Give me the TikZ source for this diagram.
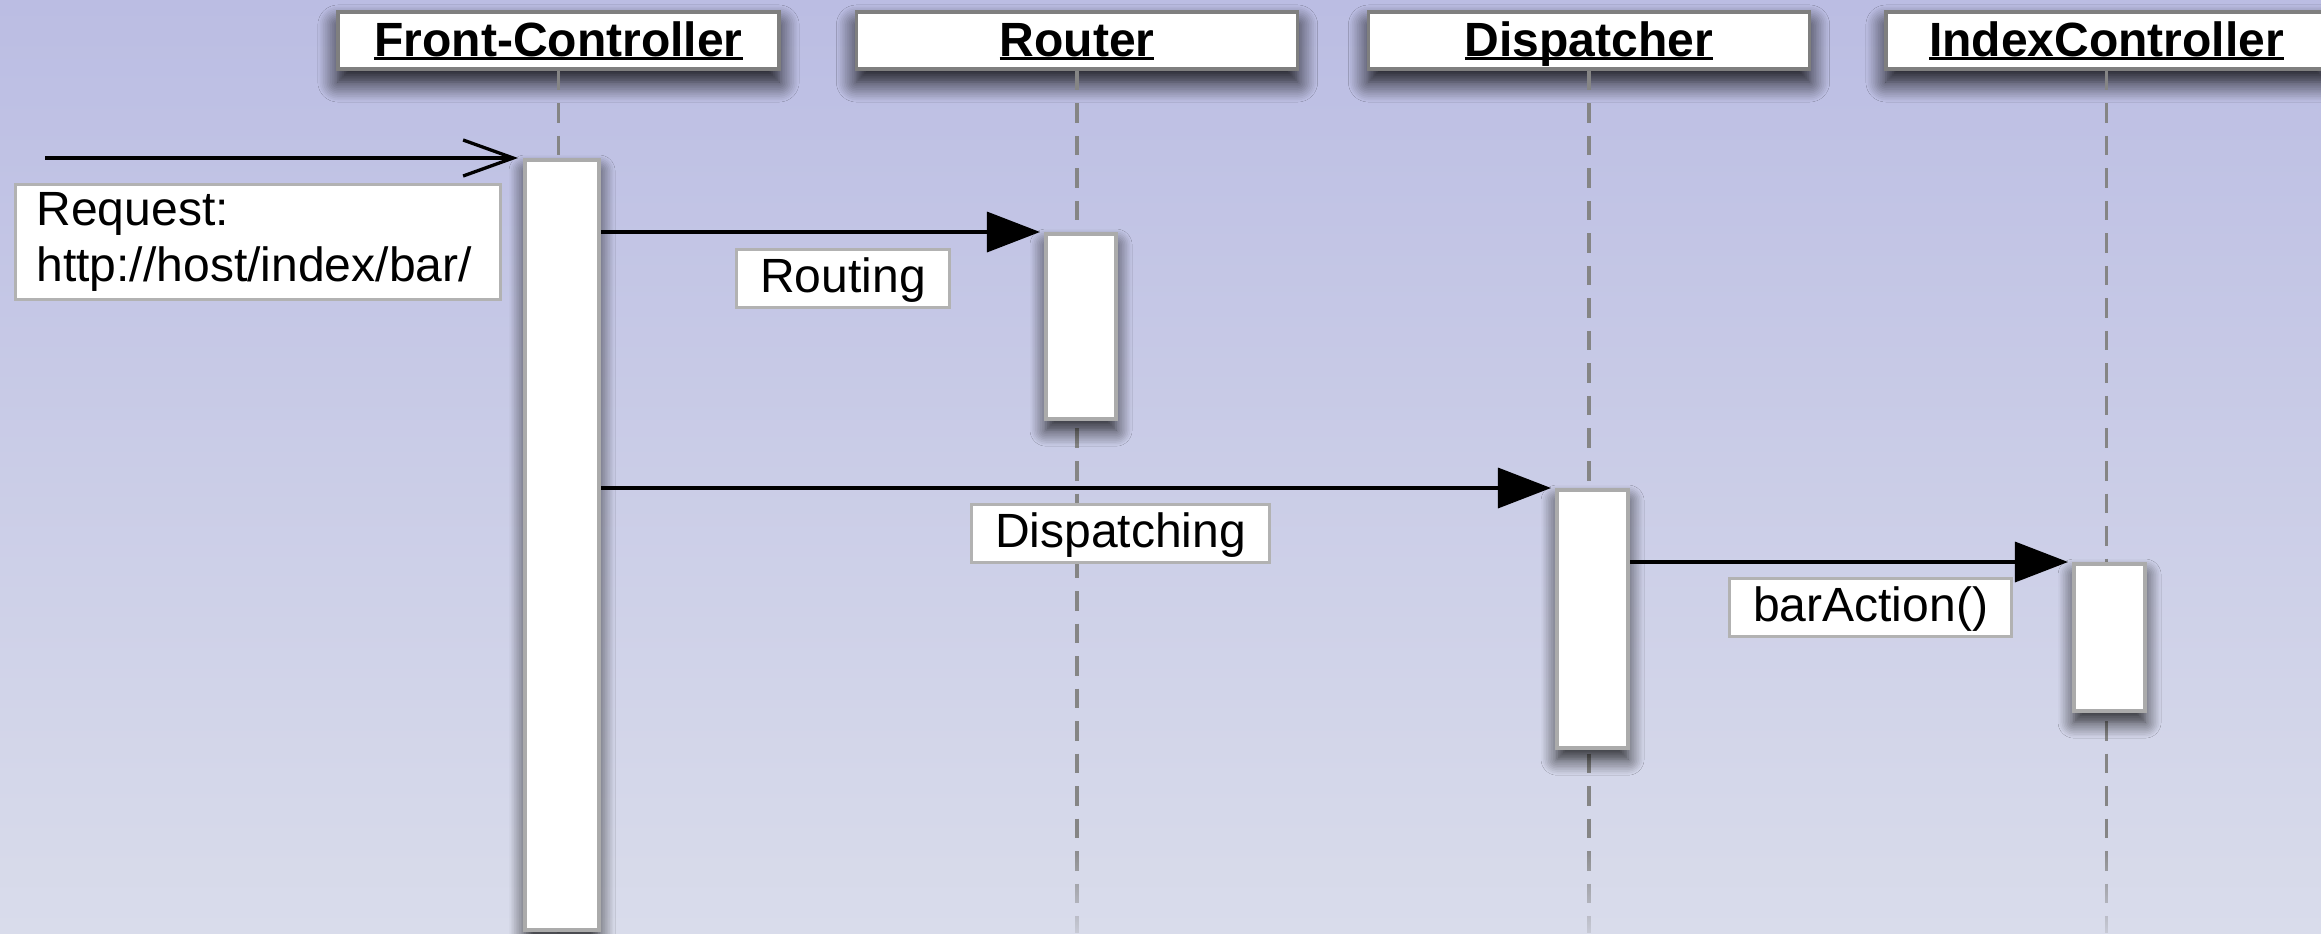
\documentclass[tikz,border=0pt]{standalone}
\usepackage{fontspec}
\setmainfont{Liberation Sans}
\usetikzlibrary{arrows.meta,shadows.blur,fadings}
\definecolor{bgtop}{HTML}{BBBDE3}
\definecolor{bgbot}{HTML}{D9DCEB}
\definecolor{bgfade}{HTML}{D6D9EA}
\definecolor{boxline}{HTML}{7F7F7F}
\definecolor{actline}{HTML}{ABABAB}
\definecolor{lblline}{HTML}{B2B2B2}
\definecolor{lifecol}{HTML}{858585}
\tikzfading[name=fadebot, top color=transparent!100, bottom color=transparent!20]
\newcommand\ulbox[1]{\setbox0\hbox{#1}\rlap{\rule[-0.035cm]{\wd0}{0.025cm}}\box0}
\begin{document}
\begin{tikzpicture}[x=0.01cm,y=-0.01cm,
  every node/.style={font=\fontsize{13.66pt}{15.93pt}\selectfont},
  titlebox/.style={draw=boxline, line width=0.035cm, fill=white,
    font=\fontsize{13.66pt}{15.93pt}\selectfont\bfseries,
    minimum width=4.41cm, inner xsep=0pt, inner ysep=0pt,
    text height=0.44cm, text depth=0.13cm,
    blur shadow={shadow xshift=0pt, shadow yshift=-0.13cm, shadow blur radius=0.2cm,
      shadow blur steps=12, shadow opacity=95}},
  actbox/.style={draw=actline, line width=0.04cm, fill=white, inner sep=0pt, anchor=north west,
    blur shadow={shadow xshift=0pt, shadow yshift=-0.11cm, shadow blur radius=0.16cm,
      shadow blur steps=10, shadow opacity=85}},
  lblbox/.style={draw=lblline, line width=0.03cm, fill=white, inner xsep=0pt, inner ysep=0pt,
    anchor=north west, text height=0.43cm, text depth=0.15cm},
  lifeline/.style={draw=lifecol, line width=0.035cm, dash pattern=on 0.195cm off 0.13cm},
  msg/.style={line width=0.033cm, shorten >=0.04cm, -{Triangle[length=0.53cm,width=0.40cm]}},
  incoming/.style={line width=0.033cm, shorten >=0.05cm, -{Straight Barb[length=0.5cm,width=0.36cm]}}
]
\useasboundingbox (0,0) rectangle (2321,933);
\clip (0,0) rectangle (2321,933);
\shade[top color=bgtop, bottom color=bgbot] (0,0) rectangle (2321,933);

% participants
\node[titlebox] (tfc) at (558.5,40.5) {\ulbox{Front-Controller}};
\node[titlebox] (trt) at (1077,40.5) {\ulbox{Router}};
\node[titlebox] (tdp) at (1589,40.5) {\ulbox{Dispatcher}};
\node[titlebox] (tic) at (2106.5,40.5) {\ulbox{IndexController}};

\coordinate (bot) at (0,933);
\draw[lifeline] (tfc.south) -- (tfc.south |- bot);
\draw[lifeline] (trt.south) -- (trt.south |- bot);
\draw[lifeline] (tdp.south) -- (tdp.south |- bot);
\draw[lifeline] (tic.south) -- (tic.south |- bot);
\shade[top color=bgfade, bottom color=bgbot, path fading=fadebot] (0,840) rectangle (2321,933);

% activations
\node[actbox, minimum width=0.74cm, minimum height=7.70cm] (fcact) at (523,158) {};
\node[actbox, minimum width=0.70cm, minimum height=1.85cm] (rtact) at (1044,232) {};
\node[actbox, minimum width=0.71cm, minimum height=2.58cm] (dpact) at (1555,488) {};
\node[actbox, minimum width=0.71cm, minimum height=1.47cm] (icact) at (2072,562) {};

% messages
\coordinate (reqstart) at (45,158);
\draw[incoming] (reqstart) -- (reqstart -| fcact.west);
\draw[msg] (fcact.east |- rtact.north) -- (rtact.north west);
\draw[msg] (fcact.east |- dpact.north) -- (dpact.north west);
\draw[msg] (dpact.east |- icact.north) -- (icact.north west);

% labels
\node[draw=lblline, line width=0.03cm, fill=white, anchor=north west, align=left,
  text width=4.43cm, inner xsep=0.21cm, inner ysep=0pt, minimum height=1.15cm] (req) at (14,183)
  {Request:\\http://host/index/bar/};
\node[lblbox, minimum width=2.13cm] (lblroute) at (735,248) {Routing};
\node[lblbox, minimum width=2.98cm] (lbldisp) at (970,503) {Dispatching};
\node[lblbox, minimum width=2.82cm] (lblbar) at (1728,577) {barAction()};
\end{tikzpicture}
\end{document}
